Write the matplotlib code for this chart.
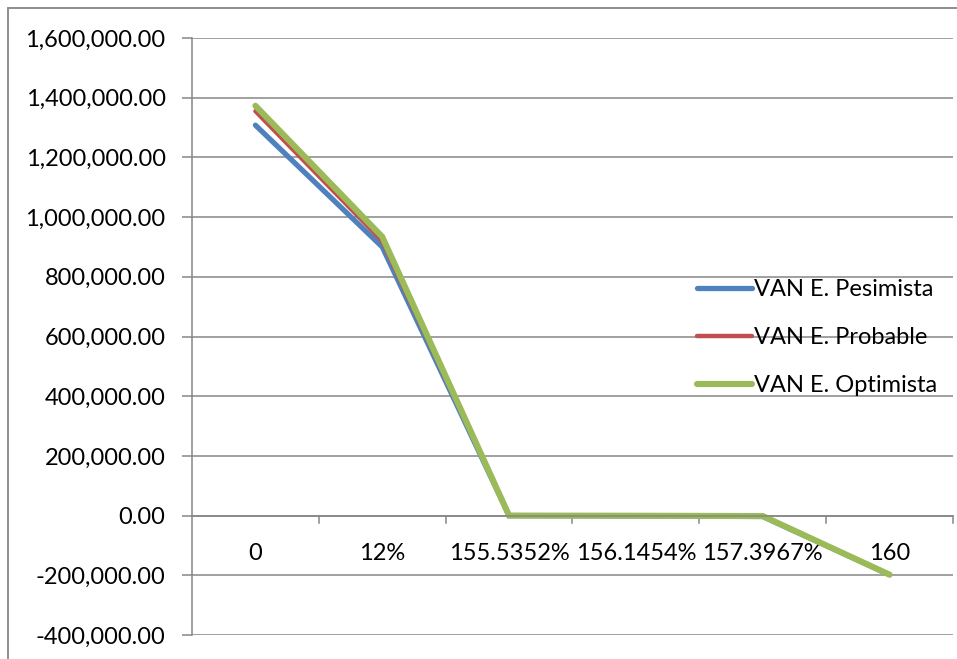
import matplotlib
matplotlib.use("Agg")
import matplotlib.pyplot as plt
from matplotlib.ticker import FuncFormatter
from matplotlib.patches import Rectangle

categories = ["0", "12%", "155.5352%", "156.1454%", "157.3967%", "160"]
van_pesimista = [1308000, 900000, 0, -1000, -3000, -198000]
van_probable = [1355000, 920000, 1000, 0, -1000, -198000]
van_optimista = [1373000, 934000, 0, -500, -1500, -198000]

series_names = ["VAN E. Pesimista", "VAN E. Probable", "VAN E. Optimista"]
colors = ["#4F81BD", "#C0504D", "#9BBB59"]
widths = [3.8, 3.2, 4.4]

plt.rcParams['font.family'] = ['Lato', 'DejaVu Sans']
FS = 17

W, H = 957, 659
fig = plt.figure(figsize=(W / 100, H / 100), dpi=100)
fig.patch.set_facecolor("white")

# outer chart border (cropped chart: only left and top visible)
fig.add_artist(Rectangle((8 / W, -0.1), 1.2, 1 - 8 / H + 0.1, transform=fig.transFigure,
                         fill=False, edgecolor="#868686", linewidth=1.3))

left, right, top, bottom = 192, 953, 38, 635
ax = fig.add_axes([left / W, 1 - bottom / H, (right - left) / W, (bottom - top) / H])

x = list(range(len(categories)))
for vals, name, c, lw in zip([van_pesimista, van_probable, van_optimista], series_names, colors, widths):
    ax.plot(x, vals, color=c, linewidth=lw, label=name, solid_capstyle="round", solid_joinstyle="miter")

ax.set_xlim(-0.5, len(categories) - 0.5)
ax.set_ylim(-400000, 1600000)
ax.set_yticks(range(-400000, 1600001, 200000))
ax.yaxis.set_major_formatter(FuncFormatter(lambda v, p: f"{v:,.2f}"))
ax.grid(axis="y", color="#868686", linewidth=1.1)
ax.set_axisbelow(True)

for s in ["top", "right"]:
    ax.spines[s].set_visible(False)
ax.spines["left"].set_color("#868686")
ax.spines["left"].set_linewidth(1.1)
ax.spines["bottom"].set_position(("data", 0))
ax.spines["bottom"].set_color("#868686")
ax.spines["bottom"].set_linewidth(1.1)

ax.set_xticks(x)
ax.set_xticklabels(categories)
ax.tick_params(axis="x", length=0, pad=20, labelsize=FS, colors="black")
ax.tick_params(axis="y", length=7, width=1.1, color="#868686", labelsize=FS, pad=12)
# category boundary ticks along zero line
for b in [i + 0.5 for i in range(len(categories))]:
    ax.plot([b, b], [0, -24000], color="#868686", linewidth=1.1, clip_on=False, zorder=1)

ax.legend(loc="upper left", bbox_to_anchor=((697 - left) / (right - left), 1 - (279 - top) / (bottom - top)),
          frameon=False, fontsize=FS, handlelength=2.35, handletextpad=0.05,
          labelspacing=1.15, borderaxespad=0, borderpad=0)

fig.savefig("out.png", dpi=100)
